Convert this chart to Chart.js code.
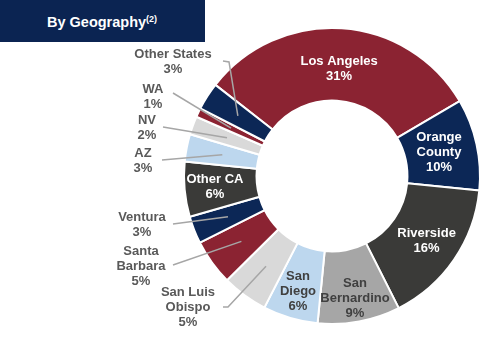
<!DOCTYPE html>
<html><head><meta charset="utf-8">
<script src="https://cdn.jsdelivr.net/npm/chart.js@4.4.1/dist/chart.umd.min.js"></script>
<style>
html,body{margin:0;padding:0;background:#fff;}
#wrap{position:relative;width:500px;height:350px;overflow:hidden;}
#title{position:absolute;left:0;top:0;width:205px;height:42px;background:#0B2452;color:#fff;font:bold 14.5px "Liberation Sans",Arial,sans-serif;line-height:44px;padding-left:47px;box-sizing:border-box;overflow:hidden;}
#title sup{font-size:9px;vertical-align:5px;line-height:0;}
canvas{position:absolute;left:0;top:0;}
</style></head><body>
<div id="wrap"><canvas id="c" width="500" height="350"></canvas><div id="title">By Geography<sup>(2)</sup></div></div>
<script>
const categories = ["Los Angeles","Orange County","Riverside","San Bernardino","San Diego","San Luis Obispo","Santa Barbara","Ventura","Other CA","AZ","NV","WA","Other States"];
const labelLines = [["Los Angeles"],["Orange","County"],["Riverside"],["San","Bernardino"],["San","Diego"],["San Luis","Obispo"],["Santa","Barbara"],["Ventura"],["Other CA"],["AZ"],["NV"],["WA"],["Other States"]];
const shares = [31,10,16,9,6,5,5,3,6,3,2,1,3];

const RED='#8B2332', NAVY='#0C2756', DARK='#3A3A38', GRAY='#A6A6A6', LBLUE='#BDD7EE', LGRAY='#D9D9D9';
const colors = [RED,NAVY,DARK,GRAY,LBLUE,LGRAY,RED,NAVY,DARK,LBLUE,LGRAY,RED,NAVY];

// label styling / placement (not data)
const OUT='#595959';
const layout = [
  {inside:true,f:0.44,color:'#fff'},
  {inside:true,f:0.47,color:'#fff'},
  {inside:true,f:0.54,color:'#fff'},
  {inside:true,f:0.68,color:'#404040'},
  {inside:true,f:0.62,color:'#404040'},
  {tx:188,ty:307,lx:223,ly:307,kx:228,ky:307,color:OUT},
  {tx:141,ty:266,lx:173,ly:265,color:OUT},
  {tx:142,ty:225,lx:173,ly:224,color:OUT},
  {inside:true,f:0.58,color:'#fff'},
  {tx:143,ty:160.5,lx:162,ly:160,color:OUT},
  {tx:147,ty:128,lx:163,ly:127,color:OUT},
  {tx:153,ty:97,lx:173,ly:93,color:OUT},
  {tx:173,ty:61.5,lx:223,ly:61,kx:229,ky:62,color:OUT}
];

const geoLabels = {
  id:'geoLabels',
  afterDatasetsDraw(chart){
    const ctx=chart.ctx; const meta=chart.getDatasetMeta(0);
    ctx.save();
    ctx.font='bold 13px "Liberation Sans", Arial, sans-serif';
    ctx.textAlign='center'; ctx.textBaseline='middle';
    meta.data.forEach((arc,i)=>{
      const p=arc.getProps(['x','y','startAngle','endAngle','innerRadius','outerRadius'],true);
      const mid=(p.startAngle+p.endAngle)/2;
      const lay=layout[i];
      const lines=[...labelLines[i], shares[i]+'%'];
      let cx,cy;
      if(lay.inside){
        const r=p.innerRadius+(p.outerRadius-p.innerRadius)*lay.f;
        cx=p.x+Math.cos(mid)*r; cy=p.y+Math.sin(mid)*r;
      } else {
        cx=lay.tx; cy=lay.ty;
        const r=(p.innerRadius+p.outerRadius)/2;
        const ex=p.x+Math.cos(mid)*r, ey=p.y+Math.sin(mid)*r;
        ctx.strokeStyle='#A6A6A6'; ctx.lineWidth=1.5;
        ctx.beginPath(); ctx.moveTo(lay.lx,lay.ly);
        if(lay.kx!==undefined) ctx.lineTo(lay.kx,lay.ky);
        ctx.lineTo(ex,ey); ctx.stroke();
      }
      ctx.fillStyle=lay.color;
      const lh=15; const y0=cy-(lines.length-1)*lh/2;
      lines.forEach((t,j)=>ctx.fillText(t,cx,y0+j*lh));
    });
    ctx.restore();
  }
};

new Chart(document.getElementById('c'),{
  type:'doughnut',
  data:{labels:categories,datasets:[{data:shares,backgroundColor:colors,borderColor:'#fff',borderWidth:2}]},
  options:{
    responsive:false,animation:false,devicePixelRatio:1,
    rotation:-52,cutout:'51%',
    layout:{padding:{left:183,right:19,top:27,bottom:25}},
    plugins:{legend:{display:false},tooltip:{enabled:false}}
  },
  plugins:[geoLabels]
});
</script>
</body></html>
